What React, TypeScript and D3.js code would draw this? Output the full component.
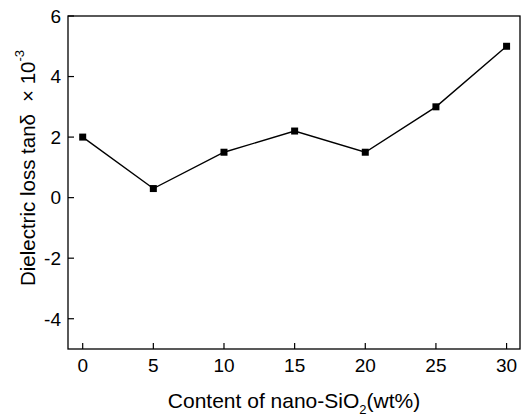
import React from "react";
import * as d3 from "d3";

const contents = [0, 5, 10, 15, 20, 25, 30];
const tanDelta = [2.0, 0.3, 1.5, 2.2, 1.5, 3.0, 5.0];
const xTicks = [0, 5, 10, 15, 20, 25, 30];
const yTicks = [-4, -2, 0, 2, 4, 6];

const W = 524, H = 416;
const m = { left: 68, right: 4, top: 16, bottom: 67 };

export default function App() {
  const x = d3.scaleLinear().domain([-1.04, 30.95]).range([m.left, W - m.right]);
  const y = d3.scaleLinear().domain([-5, 6]).range([H - m.bottom, m.top]);
  const pts = contents.map((c, i) => [c, tanDelta[i]] as [number, number]);
  const line = d3.line<[number, number]>().x(d => x(d[0])).y(d => y(d[1]));
  const font = "Arial, 'Liberation Sans', sans-serif";
  const x0 = m.left, x1 = W - m.right, y0 = H - m.bottom, y1 = m.top;

  return (
    <svg width={W} height={H} style={{ position: "absolute", left: 0, top: 0, background: "#fff" }} fontFamily={font}>
      <rect x={x0} y={y1} width={x1 - x0} height={y0 - y1} fill="none" stroke="#000" strokeWidth={1.3} />
      {yTicks.map(t => (
        <g key={"y" + t}>
          <line x1={x0} x2={x0 + 6} y1={y(t)} y2={y(t)} stroke="#000" strokeWidth={1.2} />
          <text x={x0 - 7} y={y(t)} dy="0.36em" textAnchor="end" fontSize={19}>{t}</text>
        </g>
      ))}
      {xTicks.map(t => (
        <g key={"x" + t}>
          <line x1={x(t)} x2={x(t)} y1={y0} y2={y0 - 6} stroke="#000" strokeWidth={1.2} />
          <text x={x(t)} y={y0 + 23} textAnchor="middle" fontSize={19}>{t}</text>
        </g>
      ))}
      <path d={line(pts) || ""} fill="none" stroke="#000" strokeWidth={1.4} />
      {pts.map((p, i) => (
        <rect key={i} x={x(p[0]) - 3.5} y={y(p[1]) - 3.5} width={7} height={7} fill="#000" />
      ))}
      <text x={294} y={408} textAnchor="middle" fontSize={21}>
        Content of nano-SiO<tspan fontSize={13} dy={6}>2</tspan><tspan dy={-6}>(wt%)</tspan>
      </text>
      <text transform="translate(35,168) rotate(-90)" textAnchor="middle" fontSize={20.5}>
        Dielectric loss tanδ<tspan dx={12}>× 10</tspan><tspan fontSize={13} dy={-11}>-3</tspan>
      </text>
    </svg>
  );
}
